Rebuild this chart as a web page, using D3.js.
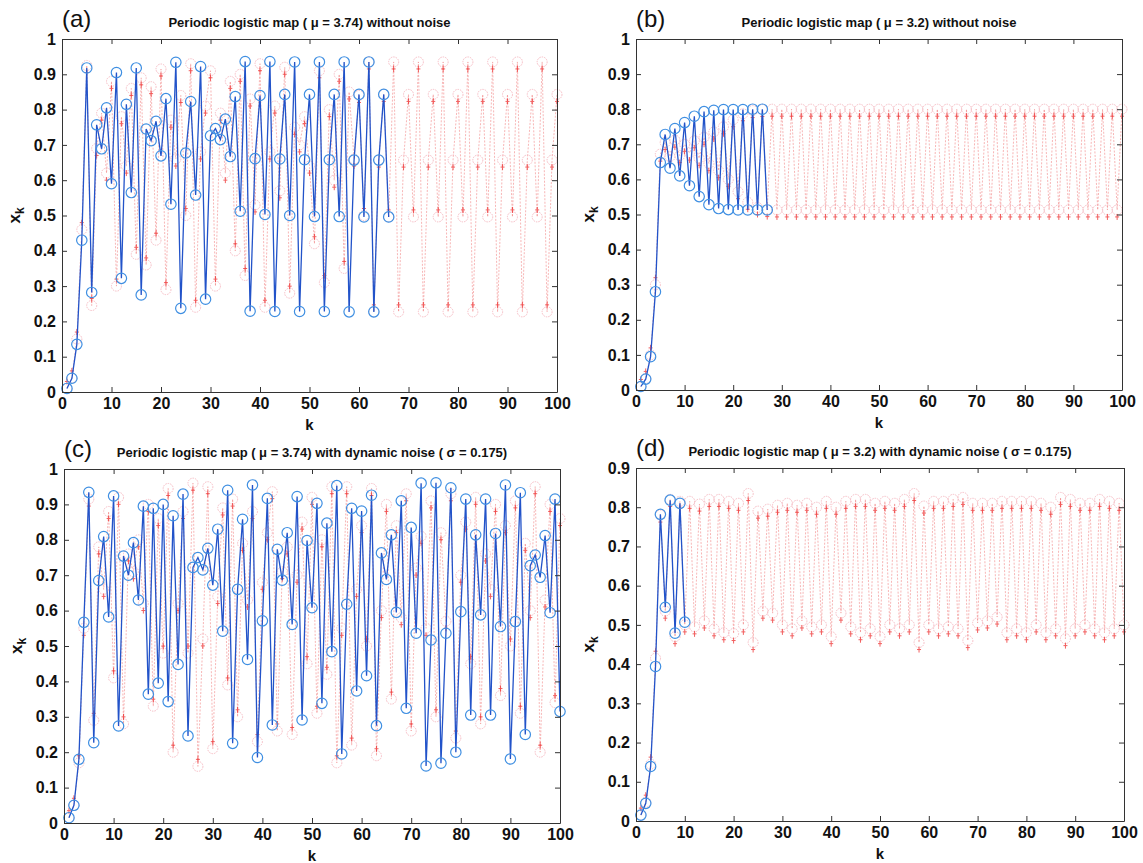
<!DOCTYPE html>
<html>
<head>
<meta charset="utf-8">
<script src="https://cdn.jsdelivr.net/npm/d3@7"></script>
<style>
  body { margin: 0; background: #fff; }
  svg { display: block; }
  text { font-family: "Liberation Sans", Arial, Helvetica, sans-serif; }
</style>
</head>
<body>
<svg id="fig" width="1143" height="863"></svg>
<script>
// tick labels
const xTicks = [0, 10, 20, 30, 40, 50, 60, 70, 80, 90, 100];
const yTicks10 = [0, 0.1, 0.2, 0.3, 0.4, 0.5, 0.6, 0.7, 0.8, 0.9, 1];
const yTicks09 = [0, 0.1, 0.2, 0.3, 0.4, 0.5, 0.6, 0.7, 0.8, 0.9];

// (a) mu = 3.74, no noise
const blueA = [0.01, 0.039, 0.135, 0.43, 0.918, 0.282, 0.757, 0.689, 0.805, 0.59,
  0.905, 0.322, 0.815, 0.565, 0.918, 0.275, 0.745, 0.712, 0.767, 0.669,
  0.831, 0.532, 0.934, 0.237, 0.677, 0.823, 0.558, 0.922, 0.263, 0.726,
  0.746, 0.715, 0.773, 0.667, 0.837, 0.512, 0.936, 0.229, 0.661, 0.84,
  0.503, 0.936, 0.228, 0.66, 0.843, 0.5, 0.935, 0.228, 0.658, 0.843,
  0.497, 0.935, 0.228, 0.658, 0.843, 0.497, 0.935, 0.227, 0.657, 0.843,
  0.496, 0.935, 0.227, 0.657, 0.843, 0.496];
const redA = [0.01, 0.04, 0.15, 0.46, 0.925, 0.245, 0.69, 0.79, 0.62, 0.88,
  0.3, 0.78, 0.64, 0.86, 0.39, 0.89, 0.36, 0.865, 0.43, 0.915,
  0.29, 0.77, 0.66, 0.84, 0.5, 0.93, 0.24, 0.68, 0.81, 0.91,
  0.3, 0.79, 0.62, 0.88, 0.4, 0.9, 0.33, 0.83, 0.53, 0.93,
  0.24, 0.68, 0.81, 0.57, 0.92, 0.28, 0.75, 0.7, 0.78, 0.64,
  0.42, 0.91, 0.31, 0.8, 0.6, 0.9, 0.35, 0.85, 0.66, 0.84,
  0.5, 0.935, 0.227, 0.657, 0.843, 0.496, 0.935, 0.227, 0.657, 0.843,
  0.496, 0.935, 0.227, 0.657, 0.843, 0.496, 0.935, 0.227, 0.657, 0.843,
  0.496, 0.935, 0.227, 0.657, 0.843, 0.496, 0.935, 0.227, 0.657, 0.843,
  0.496, 0.935, 0.227, 0.657, 0.843, 0.496, 0.935, 0.227, 0.657, 0.843];

// (b) mu = 3.2, no noise
const blueB = [0.01, 0.031, 0.095, 0.28, 0.648, 0.728, 0.632, 0.745, 0.61, 0.762,
  0.582, 0.78, 0.551, 0.793, 0.528, 0.797, 0.517, 0.799, 0.514, 0.799,
  0.513, 0.799, 0.513, 0.8, 0.513, 0.8, 0.513];
const redB = [0.01, 0.033, 0.1, 0.3, 0.672, 0.705, 0.665, 0.712, 0.668, 0.7,
  0.675, 0.71, 0.66, 0.72, 0.645, 0.735, 0.625, 0.75, 0.6, 0.77,
  0.565, 0.787, 0.535, 0.796, 0.52, 0.799, 0.514, 0.8, 0.513, 0.8,
  0.513, 0.8, 0.513, 0.8, 0.513, 0.8, 0.513, 0.8, 0.513, 0.8,
  0.513, 0.8, 0.513, 0.8, 0.513, 0.8, 0.513, 0.8, 0.513, 0.8,
  0.513, 0.8, 0.513, 0.8, 0.513, 0.8, 0.513, 0.8, 0.513, 0.8,
  0.513, 0.8, 0.513, 0.8, 0.513, 0.8, 0.513, 0.8, 0.513, 0.8,
  0.513, 0.8, 0.513, 0.8, 0.513, 0.8, 0.513, 0.8, 0.513, 0.8,
  0.513, 0.8, 0.513, 0.8, 0.513, 0.8, 0.513, 0.8, 0.513, 0.8,
  0.513, 0.8, 0.513, 0.8, 0.513, 0.8, 0.513, 0.8, 0.513, 0.8];

// (c) mu = 3.74, dynamic noise
const blueC = [0.015, 0.05, 0.18, 0.567, 0.934, 0.227, 0.685, 0.809, 0.582, 0.924,
  0.274, 0.754, 0.7, 0.792, 0.63, 0.895, 0.364, 0.889, 0.395, 0.9,
  0.343, 0.868, 0.448, 0.929, 0.246, 0.722, 0.75, 0.715, 0.776, 0.672,
  0.83, 0.542, 0.94, 0.225, 0.66, 0.858, 0.462, 0.955, 0.185, 0.571,
  0.917, 0.277, 0.773, 0.686, 0.82, 0.561, 0.922, 0.291, 0.798, 0.608,
  0.903, 0.338, 0.847, 0.484, 0.953, 0.195, 0.618, 0.889, 0.373, 0.881,
  0.416, 0.926, 0.275, 0.763, 0.688, 0.814, 0.595, 0.91, 0.324, 0.835,
  0.536, 0.96, 0.161, 0.517, 0.961, 0.169, 0.536, 0.947, 0.2, 0.597,
  0.915, 0.305, 0.814, 0.588, 0.915, 0.305, 0.818, 0.555, 0.955, 0.181,
  0.569, 0.933, 0.25, 0.727, 0.757, 0.694, 0.812, 0.594, 0.915, 0.315];
const redC = [0.015, 0.05, 0.17, 0.55, 0.915, 0.29, 0.78, 0.66, 0.88, 0.41,
  0.92, 0.28, 0.76, 0.71, 0.8, 0.62, 0.9, 0.33, 0.86, 0.48,
  0.945, 0.2, 0.62, 0.88, 0.48, 0.96, 0.16, 0.52, 0.95, 0.21,
  0.64, 0.89, 0.39, 0.915, 0.3, 0.79, 0.63, 0.88, 0.23, 0.68,
  0.82, 0.936, 0.26, 0.71, 0.78, 0.25, 0.7, 0.85, 0.45, 0.92,
  0.31, 0.8, 0.42, 0.95, 0.17, 0.55, 0.95, 0.22, 0.66, 0.84,
  0.5, 0.945, 0.19, 0.6, 0.9, 0.35, 0.84, 0.58, 0.93, 0.26,
  0.72, 0.81, 0.55, 0.91, 0.3, 0.82, 0.57, 0.93, 0.24, 0.7,
  0.85, 0.45, 0.92, 0.28, 0.76, 0.66, 0.9, 0.36, 0.84, 0.5,
  0.91, 0.31, 0.79, 0.6, 0.95, 0.2, 0.63, 0.9, 0.34, 0.86];

// (d) mu = 3.2, dynamic noise
const blueD = [0.015, 0.045, 0.139, 0.394, 0.782, 0.545, 0.818, 0.479, 0.81, 0.507];
const redD = [0.015, 0.048, 0.145, 0.415, 0.78, 0.535, 0.82, 0.47, 0.815, 0.5,
  0.815, 0.495, 0.808, 0.51, 0.82, 0.49, 0.82, 0.48, 0.815, 0.478,
  0.81, 0.5, 0.835, 0.455, 0.79, 0.535, 0.795, 0.53, 0.805, 0.5,
  0.81, 0.49, 0.805, 0.51, 0.81, 0.495, 0.8, 0.5, 0.815, 0.47,
  0.8, 0.53, 0.815, 0.495, 0.82, 0.48, 0.82, 0.49, 0.81, 0.47,
  0.815, 0.5, 0.81, 0.49, 0.82, 0.5, 0.835, 0.455, 0.803, 0.5,
  0.815, 0.49, 0.815, 0.495, 0.82, 0.49, 0.825, 0.46, 0.81, 0.505,
  0.81, 0.51, 0.81, 0.52, 0.815, 0.48, 0.815, 0.49, 0.815, 0.48,
  0.815, 0.5, 0.81, 0.48, 0.8, 0.49, 0.825, 0.465, 0.82, 0.49,
  0.81, 0.5, 0.81, 0.49, 0.82, 0.48, 0.815, 0.49, 0.81, 0.5];

const panels = [
  {tag: "(a)", title: "Periodic logistic map ( \u03bc = 3.74) without noise",
   box: [62, 557, 39, 392], yMax: 1, yTicks: yTicks10, blue: blueA, red: redA},
  {tag: "(b)", title: "Periodic logistic map ( \u03bc = 3.2) without noise",
   box: [636, 1122, 39, 390], yMax: 1, yTicks: yTicks10, blue: blueB, red: redB},
  {tag: "(c)", title: "Periodic logistic map ( \u03bc = 3.74) with dynamic noise ( \u03c3 = 0.175)",
   box: [64, 560, 469, 823], yMax: 1, yTicks: yTicks10, blue: blueC, red: redC},
  {tag: "(d)", title: "Periodic logistic map ( \u03bc = 3.2) with dynamic noise ( \u03c3 = 0.175)",
   box: [636, 1124, 468, 821], yMax: 0.9, yTicks: yTicks09, blue: blueD, red: redD}
];

const svg = d3.select("#fig");
svg.append("rect").attr("width", 1143).attr("height", 863).attr("fill", "#fff");

function fmt(v) { return v === 0 ? "0" : (v === 1 ? "1" : d3.format(".1f")(v)); }

function drawPanel(p) {
  const [x0, x1, y0, y1] = p.box;
  const x = d3.scaleLinear().domain([0, 100]).range([x0, x1]);
  const y = d3.scaleLinear().domain([0, p.yMax]).range([y1, y0]);
  const g = svg.append("g");

  const pts = arr => arr.map((v, i) => ({k: i + 1, v: v}));
  const line = d3.line().x(d => x(d.k)).y(d => y(d.v));

  // pale red series
  const red = pts(p.red);
  g.append("path").attr("d", line(red))
    .attr("fill", "none").attr("stroke", "#f07a7a").attr("stroke-width", 1)
    .attr("stroke-dasharray", "2,1.5").attr("opacity", 0.55);
  g.selectAll(".rc").data(red).join("circle")
    .attr("cx", d => x(d.k)).attr("cy", d => y(d.v)).attr("r", 5)
    .attr("fill", "none").attr("stroke", "#f7bcc4").attr("stroke-width", 1)
    .attr("stroke-dasharray", "1.5,1");
  g.selectAll(".rp").data(red).join("path")
    .attr("d", d => {
      const cx = x(d.k), cy = y(d.v) + (d.v > p.yMax / 2 ? 7 : -7);
      return `M${cx - 2},${cy}H${cx + 2}M${cx},${cy - 3}V${cy + 3}`;
    })
    .attr("stroke", "#ee2a2a").attr("stroke-width", 1).attr("opacity", 0.75);

  // blue series
  const blue = pts(p.blue);
  g.append("path").attr("d", line(blue))
    .attr("fill", "none").attr("stroke", "#2253c9").attr("stroke-width", 1.3);
  g.selectAll(".bc").data(blue).join("circle")
    .attr("cx", d => x(d.k)).attr("cy", d => y(d.v)).attr("r", 5.2)
    .attr("fill", "none").attr("stroke", "#3f8fe2").attr("stroke-width", 1.2);

  // axes (MATLAB style box, ticks inward)
  const axStyle = sel => {
    sel.select(".domain").attr("stroke", "#333");
    sel.selectAll(".tick line").attr("stroke", "#333");
    sel.selectAll("text").attr("font-size", 16).attr("font-weight", "bold").attr("fill", "#111");
  };
  g.append("g").attr("transform", `translate(0,${y1})`)
    .call(d3.axisBottom(x).tickValues(xTicks).tickSize(-5).tickPadding(6).tickSizeOuter(0))
    .call(axStyle);
  g.append("g").attr("transform", `translate(0,${y0})`)
    .call(d3.axisTop(x).tickValues(xTicks).tickSize(-5).tickFormat("").tickSizeOuter(0))
    .call(axStyle);
  g.append("g").attr("transform", `translate(${x0},0)`)
    .call(d3.axisLeft(y).tickValues(p.yTicks).tickSize(-5).tickPadding(6).tickFormat(fmt).tickSizeOuter(0))
    .call(axStyle);
  g.append("g").attr("transform", `translate(${x1},0)`)
    .call(d3.axisRight(y).tickValues(p.yTicks).tickSize(-5).tickFormat("").tickSizeOuter(0))
    .call(axStyle);

  // labels
  g.append("text").attr("x", x0).attr("y", y0 - 12)
    .attr("font-size", 24).attr("fill", "#111").text(p.tag);
  g.append("text").attr("x", (x0 + x1) / 2).attr("y", y0 - 12)
    .attr("text-anchor", "middle").attr("font-size", 13).attr("font-weight", "bold")
    .attr("fill", "#111").text(p.title);
  g.append("text").attr("x", (x0 + x1) / 2).attr("y", y1 + 38)
    .attr("text-anchor", "middle").attr("font-size", 15).attr("font-weight", "bold")
    .attr("fill", "#111").text("k");
  const yl = g.append("text")
    .attr("transform", `translate(${x0 - 42},${(y0 + y1) / 2}) rotate(-90)`)
    .attr("text-anchor", "middle").attr("font-size", 17).attr("font-weight", "bold")
    .attr("fill", "#111");
  yl.append("tspan").text("x");
  yl.append("tspan").attr("font-size", 12).attr("dy", 4).text("k");
}

panels.forEach(drawPanel);
</script>
</body>
</html>
